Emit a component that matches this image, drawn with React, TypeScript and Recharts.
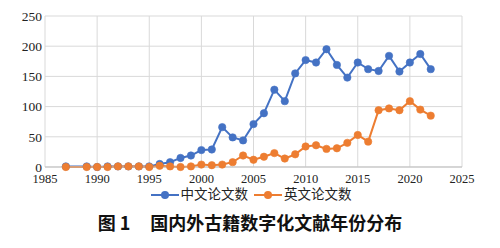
// Year distribution of Chinese vs. English papers on ancient book digitization
import { LineChart, Line, XAxis, YAxis, CartesianGrid } from "recharts";

const years = [
  1987, 1989, 1990, 1991, 1992, 1993, 1994, 1995, 1996, 1997, 1998, 1999, 2000,
  2001, 2002, 2003, 2004, 2005, 2006, 2007, 2008, 2009, 2010, 2011, 2012, 2013,
  2014, 2015, 2016, 2017, 2018, 2019, 2020, 2021, 2022,
];
const chinese = [
  1, 1, 0, 1, 1, 1, 1, 1, 5, 8, 15, 19, 28, 29, 66, 49, 44, 71, 89, 128, 109,
  155, 177, 173, 195, 169, 148, 173, 162, 159, 184, 158, 173, 187, 162,
];
const english = [
  0, 0, 0, 0, 1, 1, 1, 0, 2, 1, 0, 1, 4, 3, 4, 8, 19, 12, 17, 23, 14, 21, 34, 36,
  30, 31, 40, 53, 42, 94, 97, 94, 109, 95, 85,
];
const xTicks = [1985, 1990, 1995, 2000, 2005, 2010, 2015, 2020, 2025];
const yTicks = [0, 50, 100, 150, 200, 250];

const BLUE = "#4472C4";
const ORANGE = "#ED7D31";
const serif = "'Liberation Serif', 'Noto Sans CJK SC', serif";

const data = years.map((year, i) => ({
  year,
  cn: chinese[i],
  en: english[i],
}));

function LegendItem({ color, label }: { color: string; label: string }) {
  return (
    <span style={{ display: "inline-flex", alignItems: "center", marginRight: 6 }}>
      <svg width={28} height={10} style={{ marginRight: 2 }}>
        <line x1={0} y1={5} x2={28} y2={5} stroke={color} strokeWidth={2} />
        <circle cx={14} cy={5} r={4} fill={color} />
      </svg>
      {label}
    </span>
  );
}

export default function App() {
  return (
    <div
      style={{
        position: "fixed",
        left: 0,
        top: 0,
        width: 500,
        height: 248,
        background: "#fff",
        fontFamily: serif,
      }}
    >
      <LineChart
        width={500}
        height={205}
        data={data}
        margin={{ top: 16, right: 38, left: 5, bottom: 18 }}
      >
        <CartesianGrid stroke="#d9d9d9" strokeWidth={1} />
        <XAxis
          dataKey="year"
          type="number"
          domain={[1985, 2025]}
          ticks={xTicks}
          stroke="#bfbfbf"
          tickLine={false}
          tickSize={0}
          tickMargin={7}
          height={20}
          tick={{ fill: "#222", fontSize: 12.5, fontFamily: serif }}
        />
        <YAxis
          domain={[0, 250]}
          ticks={yTicks}
          width={40}
          axisLine={false}
          tickLine={false}
          tickSize={0}
          tickMargin={3}
          tick={{ fill: "#222", fontSize: 13.5, fontFamily: serif }}
        />
        <Line
          dataKey="cn"
          stroke={BLUE}
          strokeWidth={2}
          dot={{ r: 3.7, fill: BLUE, stroke: BLUE, strokeWidth: 0.6 }}
          isAnimationActive={false}
        />
        <Line
          dataKey="en"
          stroke={ORANGE}
          strokeWidth={2}
          dot={{ r: 3.7, fill: ORANGE, stroke: ORANGE, strokeWidth: 0.6 }}
          isAnimationActive={false}
        />
      </LineChart>
      <div
        style={{
          position: "absolute",
          top: 186,
          left: 0,
          width: 500,
          textAlign: "center",
          fontSize: 13.5,
          color: "#222",
          lineHeight: "18px",
          paddingLeft: 4,
        }}
      >
        <LegendItem color={BLUE} label="中文论文数" />
        <LegendItem color={ORANGE} label="英文论文数" />
      </div>
      <div
        style={{
          position: "absolute",
          top: 210,
          left: 0,
          width: 500,
          textAlign: "center",
          fontSize: 18,
          fontWeight: 700,
          fontFamily: "'Noto Sans CJK SC', sans-serif",
          color: "#111",
          lineHeight: "24px",
        }}
      >
        <span style={{ marginRight: 20 }}>图 1</span>
        <span>国内外古籍数字化文献年份分布</span>
      </div>
    </div>
  );
}
